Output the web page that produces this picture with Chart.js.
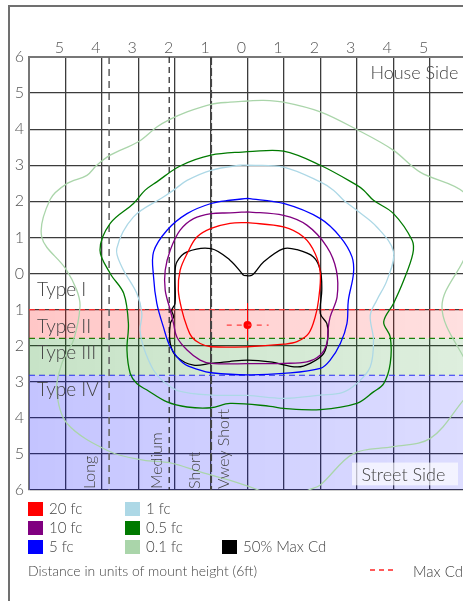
<!DOCTYPE html>
<html>
<head>
<meta charset="utf-8">
<script src="https://cdn.jsdelivr.net/npm/chart.js@4.4.1/dist/chart.umd.min.js"></script>
<style>
  html, body { margin: 0; padding: 0; width: 463px; height: 601px; overflow: hidden; background: #fff; }
  body { font-family: Lato, "Open Sans", sans-serif; font-weight: 300; color: #444; }
  #frame { position: absolute; left: 8px; top: 5px; width: 700px; height: 700px;
           border-left: 2px solid #707070; border-top: 2px solid #707070; }
  #wrap { position: absolute; left: 0; top: 0; width: 520px; height: 601px; }
  .key { position: absolute; font-size: 15px; line-height: 15px; white-space: nowrap; }
  .sw { position: absolute; width: 15px; height: 14px; }
  #note { position: absolute; left: 28px; top: 562px; font-size: 14px; white-space: nowrap; }
  #maxcd { position: absolute; left: 370px; top: 569px; width: 23px; height: 1.5px;
           background: repeating-linear-gradient(90deg, #ff5a5a 0 5px, transparent 5px 9px); }
  #maxcdtxt { position: absolute; left: 413px; top: 562px; font-size: 15px; white-space: nowrap; }
</style>
</head>
<body>
<div id="frame"></div>
<div id="wrap"><canvas id="myChart" width="520" height="601"></canvas></div>
<div id="legend"></div>
<div id="note">Distance in units of mount height (6ft)</div>
<div id="maxcd"></div>
<div id="maxcdtxt">Max Cd</div>
<script>
// 軸ラベル
const xTickLabels = ['', '5', '4', '3', '2', '1', '0', '1', '2', '3', '4', '5', ''];
const yTickLabels = ['6', '5', '4', '3', '2', '1', '0', '1', '2', '3', '4', '5', '6'];

// 等照度曲線 [x, y] (mount height 単位)
const fc20 = [[0,1.41],[0.99,1.29],[1.54,1.01],[1.86,0.55],[2.0,0.0],[1.95,-0.74],[1.86,-1.2],[1.68,-1.66],
  [1.36,-1.89],[0.99,-1.96],[0,-2.03],[-1.0,-2.03],[-1.3,-1.94],[-1.53,-1.76],[-1.66,-1.48],[-1.8,-1.02],
  [-1.9,-0.46],[-1.85,0.09],[-1.66,0.55],[-1.39,1.01],[-1.0,1.25],[-0.48,1.39],[0,1.41]];
const fc10 = [[0,1.71],[0.99,1.61],[1.63,1.34],[2.18,0.74],[2.44,0.09],[2.46,-0.65],[2.27,-1.2],[2.21,-1.57],
  [2.18,-1.94],[2.0,-2.26],[1.63,-2.45],[0.99,-2.49],[0,-2.5],[-1.0,-2.49],[-1.3,-2.4],[-1.66,-2.12],
  [-1.94,-1.76],[-2.03,-1.39],[-2.12,-1.02],[-2.26,-0.46],[-2.26,0.09],[-2.12,0.65],[-1.85,1.2],[-1.48,1.52],
  [-1.0,1.66],[-0.48,1.68],[0,1.71]];
const fc5 = [[0,2.08],[0.99,1.94],[2.0,1.52],[2.55,1.01],[2.87,0.46],[2.91,0.0],[2.77,-0.74],[2.73,-1.39],
  [2.55,-1.94],[2.27,-2.4],[2.0,-2.63],[0.99,-2.77],[0,-2.81],[-1.0,-2.75],[-1.3,-2.68],[-1.76,-2.49],
  [-2.12,-2.03],[-2.31,-1.48],[-2.49,-0.83],[-2.58,-0.09],[-2.58,0.6],[-2.21,1.2],[-1.66,1.66],[-1.0,1.94],
  [-0.48,2.03],[0,2.08]];
const fc1 = [[0,3.0],[0.99,2.95],[2.0,2.54],[2.36,2.31],[2.64,2.03],[3.0,1.75],[3.55,1.29],[4.01,0.6],
  [3.83,-0.19],[3.55,-0.74],[3.37,-1.16],[3.46,-1.85],[3.37,-2.59],[3.0,-3.05],[2.6,-3.3],[2.0,-3.37],
  [0.99,-3.46],[0,-3.38],[-1.0,-3.37],[-1.9,-3.25],[-2.3,-3.0],[-2.58,-2.68],[-2.86,-2.03],[-2.95,-1.57],
  [-2.9,-1.11],[-3.04,-0.55],[-3.45,0.18],[-3.59,0.69],[-3.13,1.57],[-2.31,2.12],[-2.03,2.31],[-1.66,2.58],
  [-1.0,2.86],[-0.2,3.0],[0,3.0]];
const fc05 = [[0,3.38],[0.99,3.39],[2.0,3.0],[3.0,2.45],[3.19,2.31],[3.46,2.03],[4.01,1.66],[4.52,0.92],
  [4.54,0.55],[4.29,-0.19],[4.01,-0.83],[3.74,-1.34],[3.92,-1.76],[3.92,-2.49],[3.74,-3.05],[3.46,-3.28],
  [3.0,-3.6],[2.0,-3.77],[0.99,-3.74],[0.62,-3.68],[-0.48,-3.6],[-1.0,-3.72],[-1.66,-3.7],[-2.21,-3.56],
  [-2.76,-3.23],[-3.04,-3.05],[-3.22,-2.77],[-3.31,-2.12],[-3.27,-1.39],[-3.4,-0.55],[-3.77,0.0],[-4.05,0.65],
  [-3.77,1.39],[-3.13,1.94],[-2.81,2.31],[-2.49,2.54],[-1.85,2.98],[-1.0,3.28],[0,3.38]];
const fc01 = [[0,4.78],[0.44,4.8],[0.99,4.75],[2.0,4.48],[3.0,3.99],[4.0,3.42],[4.74,2.81],[5.93,2.26],
  [6.4,1.4],[5.93,0.37],[5.34,-0.92],[5.93,-2.31],[6.4,-2.9],[5.93,-3.51],[5.02,-4.57],[4.0,-4.8],
  [2.91,-4.99],[2.0,-5.86],[1.68,-6.0],[1.0,-6.3],[0.3,-6.0],[-0.2,-5.82],[-1.3,-5.5],[-2.12,-5.25],
  [-2.86,-5.17],[-3.77,-4.94],[-4.96,-4.15],[-5.24,-3.23],[-5.1,-2.5],[-4.78,-1.85],[-4.6,-0.92],
  [-4.69,-0.46],[-5.0,0.14],[-5.65,1.01],[-5.42,2.05],[-4.96,2.49],[-4.41,2.72],[-4.14,3.0],[-3.77,3.28],
  [-3.0,3.65],[-2.49,4.06],[-2.13,4.27],[-1.66,4.48],[-1.0,4.69],[-0.48,4.75],[0,4.78]];
const halfMaxCd = [[-0.11,-0.05],[0.12,-0.05],[0.44,0.32],[0.99,0.69],[1.36,0.66],[1.81,0.46],[2.0,0.09],
  [2.04,-0.46],[2.0,-1.11],[2.18,-1.39],[2.21,-1.76],[2.09,-2.22],[1.72,-2.49],[1.36,-2.59],[0.62,-2.45],
  [0,-2.4],[-0.5,-2.44],[-1.0,-2.49],[-1.48,-2.54],[-1.94,-2.31],[-2.12,-1.94],[-2.12,-1.39],[-2.03,-1.2],
  [-2.08,-1.02],[-1.99,-0.83],[-1.99,0.0],[-1.94,0.32],[-1.66,0.6],[-1.0,0.69],[-0.48,0.37],[-0.11,-0.05]];

// 最大光度点
const maxCdPoint = [[0, -1.43]];
const maxCdSpan = [[-0.57, -1.43], [0.58, -1.43]];
const maxCdDrop = [[0, -0.83], [0, -1.85]];

// タイプ境界 (上端, 下端)
const typeBands = [[-1.0, -1.8], [-1.8, -2.82], [-2.82, -6]];
const typeLabels = ['Type I', 'Type II', 'Type III', 'Type IV'];
const typeLabelY = [-0.46, -1.48, -2.2, -3.23];

// 到達距離の境界
const rangeLines = [-3.8, -2.15, -1.0];
const rangeLabels = ['Long', 'Medium', 'Short', 'Vwey Short'];
const rangeLabelX = [-4.34, -2.49, -1.44, -0.66];

const pts = arr => arr.map(p => ({ x: p[0], y: p[1] }));

const series = [
  { label: '20 fc', data: fc20, color: '#ff0000' },
  { label: '10 fc', data: fc10, color: '#800080' },
  { label: '5 fc', data: fc5, color: '#0000ff' },
  { label: '1 fc', data: fc1, color: '#add8e6' },
  { label: '0.5 fc', data: fc05, color: '#007a00' },
  { label: '0.1 fc', data: fc01, color: '#aad5aa' },
  { label: '50% Max Cd', data: halfMaxCd, color: '#000000' },
];
const legendSlots = [[0, 0], [0, 1], [0, 2], [1, 0], [1, 1], [1, 2], [2, 2]];

const bandStyles = [
  { line: '#ff3030', rgb: '255,0,0', a0: 0.22, a1: 0.12 },
  { line: '#0a8a0a', rgb: '0,128,0', a0: 0.22, a1: 0.13 },
  { line: '#2a2aff', rgb: '0,0,255', a0: 0.23, a1: 0.135 },
];
const rangeStyles = [
  { color: '#6a6a6a', width: 1.6, dash: [7, 5] },
  { color: '#222222', width: 1.2, dash: [6, 4] },
  { color: '#444444', width: 2, dash: [8, 3] },
];

function gradientFill(style) {
  return ctx => {
    const area = ctx.chart.chartArea;
    if (!area) return null;
    const g = ctx.chart.ctx.createLinearGradient(area.left, 0, area.right, 0);
    g.addColorStop(0, `rgba(${style.rgb},${style.a0})`);
    g.addColorStop(1, `rgba(${style.rgb},${style.a1})`);
    return g;
  };
}

const datasets = [];
typeBands.forEach((b, i) => {
  datasets.push({
    data: pts([[-6, b[0]], [6, b[0]]]),
    showLine: true, pointRadius: 0,
    borderColor: bandStyles[i].line, borderWidth: 1.2, borderDash: [6, 4],
    backgroundColor: gradientFill(bandStyles[i]),
    fill: { value: b[1] },
    order: 10,
  });
});
rangeLines.forEach((v, i) => {
  datasets.push({
    data: pts([[v, 6], [v, -6]]),
    showLine: true, pointRadius: 0,
    borderColor: rangeStyles[i].color, borderWidth: rangeStyles[i].width, borderDash: rangeStyles[i].dash,
    order: 5,
  });
});
series.forEach(s => {
  datasets.push({
    label: s.label,
    data: pts(s.data),
    showLine: true, pointRadius: 0, tension: 0.35,
    borderColor: s.color, borderWidth: 1.3,
    order: 1,
  });
});
datasets.push({ data: pts(maxCdDrop), showLine: true, pointRadius: 0, borderColor: '#ff0000', borderWidth: 1, order: 0 });
datasets.push({ data: pts(maxCdSpan), showLine: true, pointRadius: 0, borderColor: '#ff4040', borderWidth: 1.3, borderDash: [5, 5], order: 0 });
datasets.push({ data: pts(maxCdPoint), pointRadius: 4, pointBackgroundColor: '#ff0000', pointBorderWidth: 0, order: 0 });

const annotations = {
  id: 'annotations',
  afterDatasetsDraw(chart) {
    const { ctx, scales: { x, y } } = chart;
    ctx.save();
    ctx.fillStyle = '#444';
    ctx.textBaseline = 'middle';

    ctx.font = '300 19px Lato';
    ctx.textAlign = 'left';
    typeLabels.forEach((t, i) => ctx.fillText(t, x.left + 8, y.getPixelForValue(typeLabelY[i])));

    ctx.font = '300 16px Lato';
    rangeLabels.forEach((t, i) => {
      ctx.save();
      ctx.translate(x.getPixelForValue(rangeLabelX[i]), y.bottom - 1);
      ctx.rotate(-Math.PI / 2);
      ctx.fillText(t, 0, 0);
      ctx.restore();
    });

    ctx.font = '300 18px Lato';
    ctx.textAlign = 'right';
    ctx.fillText('House Side', x.getPixelForValue(5.79), y.getPixelForValue(5.56));

    const bx0 = x.getPixelForValue(2.87), bx1 = x.getPixelForValue(5.78);
    const by0 = y.getPixelForValue(-5.24), by1 = y.getPixelForValue(-5.87);
    ctx.fillStyle = 'rgba(255,255,255,0.65)';
    ctx.fillRect(bx0, by0, bx1 - bx0, by1 - by0);
    ctx.fillStyle = '#444';
    ctx.font = '300 18px Lato';
    ctx.textAlign = 'center';
    ctx.fillText('Street Side', x.getPixelForValue(4.28), y.getPixelForValue(-5.59));
    ctx.restore();
  }
};

Chart.defaults.font.family = 'Lato';
Chart.defaults.font.weight = '300';
Chart.defaults.color = '#555';

new Chart(document.getElementById('myChart'), {
  type: 'scatter',
  data: { datasets },
  options: {
    responsive: false,
    animation: false,
    events: [],
    layout: { padding: { left: 0, top: 0, right: 54, bottom: 111 } },
    plugins: { legend: { display: false }, tooltip: { enabled: false } },
    scales: {
      x: {
        position: 'top', min: -6, max: 6,
        afterFit: s => { s.height = 57; },
        ticks: { stepSize: 1, autoSkip: false, maxRotation: 0, padding: 0, labelOffset: -6,
                 font: { size: 16 }, callback: (v, i) => xTickLabels[i] },
        grid: { color: '#3c3c3c', lineWidth: 1.3, drawTicks: false },
        border: { color: '#777', width: 2 },
      },
      y: {
        min: -6, max: 6,
        afterFit: s => { s.width = 29; },
        ticks: { stepSize: 1, autoSkip: false, padding: 5,
                 font: { size: 16 }, callback: (v, i) => yTickLabels[i] },
        grid: { color: '#3c3c3c', lineWidth: 1.3, drawTicks: false },
        border: { color: '#777', width: 2 },
      },
    },
  },
  plugins: [annotations],
});

// 凡例
const colX = [28, 125, 222];
const rowY = [502, 521, 540];
const legend = document.getElementById('legend');
series.forEach((s, i) => {
  const [c, r] = legendSlots[i];
  const sw = document.createElement('div');
  sw.className = 'sw';
  sw.style.left = colX[c] + 'px';
  sw.style.top = rowY[r] + 'px';
  sw.style.background = s.color;
  legend.appendChild(sw);
  const t = document.createElement('div');
  t.className = 'key';
  t.style.left = (colX[c] + 21) + 'px';
  t.style.top = (rowY[r] - 1) + 'px';
  t.textContent = s.label;
  legend.appendChild(t);
});
</script>
</body>
</html>
